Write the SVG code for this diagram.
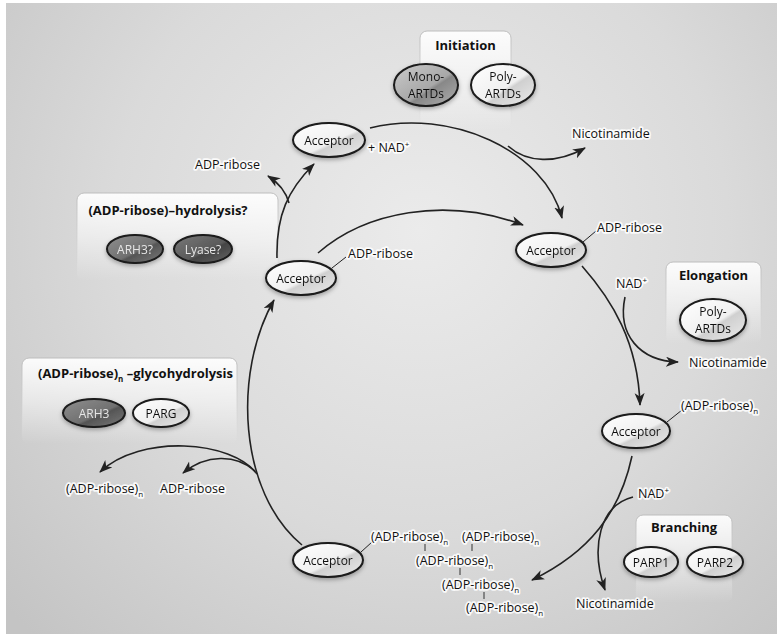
<svg xmlns="http://www.w3.org/2000/svg" width="777" height="634" viewBox="0 0 777 634">
<defs>
  <radialGradient id="bg" cx="420" cy="230" r="560" gradientUnits="userSpaceOnUse">
    <stop offset="0" stop-color="#ebebeb"/>
    <stop offset="0.55" stop-color="#dadada"/>
    <stop offset="1" stop-color="#c4c4c4"/>
  </radialGradient>
  <linearGradient id="light" x1="0" y1="0" x2="1" y2="1">
    <stop offset="0" stop-color="#ffffff"/>
    <stop offset="0.55" stop-color="#f0f0f0"/>
    <stop offset="0.6" stop-color="#d0d0d0"/>
    <stop offset="1" stop-color="#ececec"/>
  </linearGradient>
  <linearGradient id="mid" x1="0" y1="0" x2="1" y2="1">
    <stop offset="0" stop-color="#cbcbcb"/>
    <stop offset="0.55" stop-color="#a8a8a8"/>
    <stop offset="0.6" stop-color="#888888"/>
    <stop offset="1" stop-color="#b0b0b0"/>
  </linearGradient>
  <linearGradient id="dark" x1="0" y1="0" x2="1" y2="1">
    <stop offset="0" stop-color="#909090"/>
    <stop offset="0.55" stop-color="#707070"/>
    <stop offset="0.6" stop-color="#555555"/>
    <stop offset="1" stop-color="#7a7a7a"/>
  </linearGradient>
  <linearGradient id="darker" x1="0" y1="0" x2="1" y2="1">
    <stop offset="0" stop-color="#7a7a7a"/>
    <stop offset="0.55" stop-color="#5a5a5a"/>
    <stop offset="0.6" stop-color="#444444"/>
    <stop offset="1" stop-color="#666666"/>
  </linearGradient>
  <linearGradient id="box" x1="0" y1="0" x2="0" y2="1">
    <stop offset="0" stop-color="#ffffff" stop-opacity="0.92"/>
    <stop offset="0.5" stop-color="#ffffff" stop-opacity="0.5"/>
    <stop offset="1" stop-color="#ffffff" stop-opacity="0"/>
  </linearGradient>
  <linearGradient id="boxedge" x1="0" y1="0" x2="0" y2="1">
    <stop offset="0" stop-color="#bdbdbd" stop-opacity="1"/>
    <stop offset="0.6" stop-color="#cfcfcf" stop-opacity="0.6"/>
    <stop offset="1" stop-color="#d8d8d8" stop-opacity="0"/>
  </linearGradient>
  <filter id="shadow" x="-30%" y="-40%" width="160%" height="180%">
    <feGaussianBlur in="SourceAlpha" stdDeviation="2.2" result="b"/>
    <feOffset dx="0" dy="1.5" in="b" result="o"/>
    <feFlood flood-color="#000" flood-opacity="0.3"/>
    <feComposite in2="o" operator="in" result="s"/>
    <feMerge><feMergeNode in="s"/><feMergeNode in="SourceGraphic"/></feMerge>
  </filter>
  <marker id="arr" markerWidth="14" markerHeight="11" refX="12" refY="5" orient="auto" markerUnits="userSpaceOnUse">
    <path d="M0,0 L13,5 L0,10 L3.5,5 z" fill="#222"/>
  </marker>
  <style>
    text { font-family: "Open Sans", "Liberation Sans", sans-serif; fill: #111; }
    .lbl { font-size: 12.5px; stroke: #ffffff; stroke-width: 3.5; stroke-opacity: 0.85; stroke-linejoin: round; paint-order: stroke fill; }
    .acc { font-size: 12px; text-anchor: middle; }
    .enz { font-size: 12px; text-anchor: middle; }
    .enzw { font-size: 12px; text-anchor: middle; fill: #e6e6e6; }
    .ttl { font-size: 13px; font-weight: bold; }
    .node ellipse { stroke: #1a1a1a; stroke-width: 2; }
    .conn path { fill: none; stroke: #222; stroke-width: 1.6; }
    .tick { stroke: #333; stroke-width: 1; }
    .boxr { fill: url(#box); stroke: url(#boxedge); stroke-width: 1; }
  </style>
</defs>

<rect x="0" y="0" width="777" height="634" fill="#ffffff"/>
<rect x="6" y="3" width="771" height="631" fill="url(#bg)"/>

<!-- group boxes -->
<g id="box-initiation">
  <rect class="boxr" x="420" y="31" width="91" height="100" rx="7"/>
  <text class="ttl" x="465.5" y="50" text-anchor="middle">Initiation</text>
</g>
<g id="box-hydrolysis">
  <rect class="boxr" x="77" y="193" width="201" height="88" rx="7"/>
  <text class="ttl" x="168" y="215" text-anchor="middle">(ADP-ribose)–hydrolysis?</text>
</g>
<g id="box-glyco">
  <rect class="boxr" x="22" y="358" width="215" height="86" rx="7"/>
  <text class="ttl" x="38" y="378">(ADP-ribose)<tspan font-size="8" dy="4">n</tspan><tspan dy="-4"> –glycohydrolysis</tspan></text>
</g>
<g id="box-elongation">
  <rect class="boxr" x="666" y="262" width="95" height="82" rx="7"/>
  <text class="ttl" x="713.5" y="280" text-anchor="middle">Elongation</text>
</g>
<g id="box-branching">
  <rect class="boxr" x="636" y="515" width="96" height="88" rx="7"/>
  <text class="ttl" x="684" y="532" text-anchor="middle">Branching</text>
</g>

<!-- connectors -->
<g id="connectors" class="conn">
  <path d="M370,128 C450,108 545,150 562,218" marker-end="url(#arr)"/>
  <path d="M508,146 C527,163 556,164 585,148" marker-end="url(#arr)"/>
  <path d="M277,258 C276,215 288,190 314,164" marker-end="url(#arr)"/>
  <path d="M289,203 C286,192 279,183 268,176" marker-end="url(#arr)"/>
  <path d="M318,253 C365,212 445,196 523,225" marker-end="url(#arr)"/>
  <path d="M582,266 C612,300 638,342 640,405" marker-end="url(#arr)"/>
  <path d="M625,297 C617,335 640,361 678,362" marker-end="url(#arr)"/>
  <path d="M632,456 C620,512 590,552 532,580" marker-end="url(#arr)"/>
  <path d="M633,497 C600,505 590,547 605,590" marker-end="url(#arr)"/>
  <path d="M302,545 C238,492 233,372 274,300" marker-end="url(#arr)"/>
  <path d="M257,474 C232,440 140,434 100,472" marker-end="url(#arr)"/>
  <path d="M255,471 C236,454 206,454 183,473" marker-end="url(#arr)"/>
  <!-- thin label leaders -->
  <path d="M583,242 L596,231" style="stroke-width:1"/>
  <path d="M332,268 L346,257" style="stroke-width:1"/>
  <path d="M667,422 L682,410" style="stroke-width:1"/>
  <path d="M361,552 L372,542" style="stroke-width:1"/>
</g>

<!-- enzyme nodes -->
<g id="mono-artds" class="node" filter="url(#shadow)">
  <ellipse cx="426" cy="85" rx="32" ry="21" fill="url(#mid)"/>
  <text class="enz" x="426" y="81">Mono-</text>
  <text class="enz" x="426" y="98">ARTDs</text>
</g>
<g id="poly-artds-init" class="node" filter="url(#shadow)">
  <ellipse cx="503" cy="85" rx="32" ry="21" fill="url(#light)"/>
  <text class="enz" x="503" y="81">Poly-</text>
  <text class="enz" x="503" y="98">ARTDs</text>
</g>
<g id="arh3q" class="node" filter="url(#shadow)">
  <ellipse cx="135" cy="249" rx="28" ry="14" fill="url(#dark)"/>
  <text class="enzw" x="135" y="253.5">ARH3?</text>
</g>
<g id="lyase" class="node" filter="url(#shadow)">
  <ellipse cx="203" cy="249" rx="29" ry="14" fill="url(#darker)"/>
  <text class="enzw" x="203" y="253.5">Lyase?</text>
</g>
<g id="arh3" class="node" filter="url(#shadow)">
  <ellipse cx="94" cy="413" rx="31" ry="14" fill="url(#dark)"/>
  <text class="enzw" x="94" y="417.5">ARH3</text>
</g>
<g id="parg" class="node" filter="url(#shadow)">
  <ellipse cx="161" cy="413" rx="28" ry="14" fill="url(#light)"/>
  <text class="enz" x="161" y="417.5">PARG</text>
</g>
<g id="poly-artds-elong" class="node" filter="url(#shadow)">
  <ellipse cx="713" cy="320" rx="33" ry="21" fill="url(#light)"/>
  <text class="enz" x="713" y="316">Poly-</text>
  <text class="enz" x="713" y="333">ARTDs</text>
</g>
<g id="parp1" class="node" filter="url(#shadow)">
  <ellipse cx="651" cy="562" rx="27" ry="15" fill="url(#light)"/>
  <text class="enz" x="651" y="566.5">PARP1</text>
</g>
<g id="parp2" class="node" filter="url(#shadow)">
  <ellipse cx="715" cy="562" rx="28" ry="15" fill="url(#light)"/>
  <text class="enz" x="715" y="566.5">PARP2</text>
</g>

<!-- acceptor nodes -->
<g id="acceptor-top" class="node" filter="url(#shadow)">
  <ellipse cx="329" cy="140" rx="36" ry="17" fill="url(#light)"/>
  <text class="acc" x="329" y="144.5">Acceptor</text>
</g>
<g id="acceptor-right" class="node" filter="url(#shadow)">
  <ellipse cx="551" cy="250" rx="35" ry="17" fill="url(#light)"/>
  <text class="acc" x="551" y="254.5">Acceptor</text>
</g>
<g id="acceptor-left" class="node" filter="url(#shadow)">
  <ellipse cx="301" cy="278" rx="35" ry="17" fill="url(#light)"/>
  <text class="acc" x="301" y="282.5">Acceptor</text>
</g>
<g id="acceptor-poly" class="node" filter="url(#shadow)">
  <ellipse cx="636" cy="431" rx="34" ry="17" fill="url(#light)"/>
  <text class="acc" x="636" y="435.5">Acceptor</text>
</g>
<g id="acceptor-bottom" class="node" filter="url(#shadow)">
  <ellipse cx="328" cy="560" rx="35" ry="17" fill="url(#light)"/>
  <text class="acc" x="328" y="564.5">Acceptor</text>
</g>

<!-- labels -->
<g id="labels">
  <text class="lbl" x="368" y="152">+ NAD<tspan font-size="8" dy="-5">+</tspan></text>
  <text class="lbl" x="572" y="138">Nicotinamide</text>
  <text class="lbl" x="195" y="169">ADP-ribose</text>
  <text class="lbl" x="348" y="258">ADP-ribose</text>
  <text class="lbl" x="597" y="232">ADP-ribose</text>
  <text class="lbl" x="616" y="288">NAD<tspan font-size="8" dy="-5">+</tspan></text>
  <text class="lbl" x="689" y="367">Nicotinamide</text>
  <text class="lbl" x="681" y="410">(ADP-ribose)<tspan font-size="8" dy="4">n</tspan></text>
  <text class="lbl" x="638" y="498">NAD<tspan font-size="8" dy="-5">+</tspan></text>
  <text class="lbl" x="576" y="608">Nicotinamide</text>
  <text class="lbl" x="66" y="493">(ADP-ribose)<tspan font-size="8" dy="4">n</tspan></text>
  <text class="lbl" x="160" y="493">ADP-ribose</text>
  <text class="lbl" x="371" y="541">(ADP-ribose)<tspan font-size="8" dy="4">n</tspan></text>
  <text class="lbl" x="462" y="541">(ADP-ribose)<tspan font-size="8" dy="4">n</tspan></text>
  <text class="lbl" x="416" y="565">(ADP-ribose)<tspan font-size="8" dy="4">n</tspan></text>
  <text class="lbl" x="442" y="589">(ADP-ribose)<tspan font-size="8" dy="4">n</tspan></text>
  <text class="lbl" x="466" y="612">(ADP-ribose)<tspan font-size="8" dy="4">n</tspan></text>
</g>
<g id="branch-ticks" class="tick">
  <line x1="425" y1="544" x2="425" y2="551"/>
  <line x1="472" y1="544" x2="472" y2="551"/>
  <line x1="460" y1="568" x2="460" y2="575"/>
  <line x1="484" y1="592" x2="484" y2="599"/>
</g>
</svg>
